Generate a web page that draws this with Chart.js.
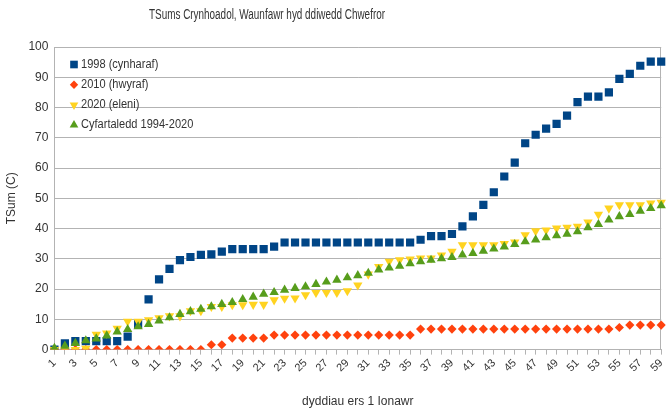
<!DOCTYPE html>
<html><head><meta charset="utf-8">
<script src="https://cdn.jsdelivr.net/npm/chart.js@4/dist/chart.umd.min.js"></script>
<style>html,body{margin:0;padding:0;background:#fff;} #wrap{width:667px;height:411px;position:relative;}</style>
</head><body><div id="wrap"><canvas id="c" width="667" height="411"></canvas></div>
<script>
const days = ['1','2','3','4','5','6','7','8','9','10','11','12','13','14','15','16','17','18','19','20',
  '21','22','23','24','25','26','27','28','29','30','31','32','33','34','35','36','37','38','39','40',
  '41','42','43','44','45','46','47','48','49','50','51','52','53','54','55','56','57','58','59'];

const s1998 = [0,2.1,2.8,2.8,2.8,2.8,2.8,4.3,8.4,16.6,23.2,26.7,29.6,30.6,31.3,31.5,32.4,33.2,33.2,33.2,
  33.2,34.0,35.4,35.4,35.4,35.4,35.4,35.4,35.4,35.4,35.4,35.4,35.4,35.4,35.4,36.3,37.5,37.5,38.2,40.7,
  44.0,47.8,52.0,57.2,61.8,68.2,71.0,73.0,74.6,77.3,81.8,83.6,83.6,85.0,89.5,91.1,93.8,95.2,95.2];

const s2010 = [0,0,0,0,0,0,0,0,0,0,0,0,0,0,0,1.6,1.6,3.8,3.8,3.8,
  3.8,4.8,4.8,4.8,4.8,4.8,4.8,4.8,4.8,4.8,4.8,4.8,4.8,4.8,4.8,6.8,6.8,6.8,6.8,6.8,
  6.8,6.8,6.8,6.8,6.8,6.8,6.8,6.8,6.8,6.8,6.8,6.8,6.8,6.8,7.3,8.1,8.1,8.1,8.1];

const s2020 = [0,0,0,0.4,5.0,5.4,7.0,9.3,9.3,9.8,10.5,11.1,11.1,12.8,12.8,14.2,14.2,14.8,14.8,14.9,
  14.9,16.4,16.9,17.0,18.1,18.8,18.8,18.8,19.4,21.3,24.9,27.4,29.1,29.6,29.9,30.2,30.2,31.2,32.4,34.6,
  34.6,34.6,34.6,35.0,35.5,37.9,39.2,39.5,40.1,40.4,40.7,42.1,44.7,46.7,47.8,47.8,47.8,48.4,48.6];

const sAvg = [0.5,1.2,2.1,3.0,3.6,4.6,5.9,6.7,7.6,8.4,9.5,10.6,11.7,12.6,13.4,14.2,15.0,15.6,16.6,17.4,
  18.4,18.9,19.7,20.3,20.8,21.6,22.4,23.0,23.8,24.5,25.3,26.4,27.0,27.6,28.4,29.1,29.6,30.1,30.5,31.3,
  31.8,32.6,33.3,34.0,34.8,35.7,36.3,37.0,37.7,38.2,39.0,40.3,41.4,42.9,44.0,44.7,45.8,46.7,47.6];

const seriesNames = ['1998 (cynharaf)','2010 (hwyraf)','2020 (eleni)','Cyfartaledd 1994-2020'];
const yTicks = [0,10,20,30,40,50,60,70,80,90,100];

const chartTitle = 'TSums Crynhoadol, Waunfawr hyd ddiwedd Chwefror';
const yTitle = 'TSum (C)';
const xTitle = 'dyddiau ers 1 Ionawr';

const FONT = "'Liberation Sans',Arial,sans-serif";

const titlePlugin = {
  id: 'titleDraw',
  afterDraw(chart) {
    const ctx = chart.ctx;
    ctx.save();
    ctx.font = "14px " + FONT;
    ctx.fillStyle = '#333';
    ctx.textAlign = 'center';
    ctx.textBaseline = 'middle';
    const w = ctx.measureText(chartTitle).width;
    const sx = Math.min(1, 236 / w);
    ctx.translate(267, 15);
    ctx.scale(sx, 1);
    ctx.fillText(chartTitle, 0, 0);
    ctx.restore();
  }
};

const legendPlugin = {
  id: 'legendDraw',
  afterDatasetsDraw(chart) {
    const ctx = chart.ctx;
    ctx.save();
    chart.data.datasets.forEach((ds, k) => {
      const x = 74, y = 64.5 + 20.2 * k;
      ctx.fillStyle = ds.backgroundColor;
      ctx.strokeStyle = ds.backgroundColor;
      Chart.helpers.drawPoint(ctx, {
        pointStyle: ds.pointStyle, radius: ds.legendRadius, rotation: ds.pointRotation || 0, borderWidth: 0
      }, x, y);
      ctx.save();
      ctx.font = "12px " + FONT;
      ctx.fillStyle = '#333';
      ctx.textAlign = 'left';
      ctx.textBaseline = 'middle';
      ctx.translate(81, y);
      ctx.scale(0.92, 1);
      ctx.fillText(ds.label, 0, 0);
      ctx.restore();
    });
    ctx.restore();
  }
};

const mk = (label, data, color, style, r, rot, order, lr) => ({
  label, data, backgroundColor: color, borderColor: color, borderWidth: 0,
  pointStyle: style, pointRadius: r, pointHoverRadius: r, pointRotation: rot,
  showLine: false, order, legendRadius: lr
});

new Chart(document.getElementById('c'), {
  type: 'line',
  data: {
    labels: days,
    datasets: [
      mk(seriesNames[0], s1998, '#004586', 'rect', 5.8, 0, 3, 5.4),
      mk(seriesNames[1], s2010, '#ff420e', 'rectRot', 4.6, 0, 2, 4.2),
      mk(seriesNames[2], s2020, '#ffd320', 'triangle', 5.4, 180, 1, 5),
      mk(seriesNames[3], sAvg, '#579d1c', 'triangle', 5.4, 0, 0, 5)
    ]
  },
  options: {
    responsive: false,
    animation: false,
    devicePixelRatio: 1,
    layout: { padding: { top: 47, right: 1, left: 4, bottom: 2 } },
    plugins: { legend: { display: false }, title: { display: false }, tooltip: { enabled: false } },
    scales: {
      x: {
        offset: false,
        afterFit(scale) { scale.paddingRight = 0; scale.paddingLeft = 0; },
        grid: { display: true, drawOnChartArea: false, drawTicks: true, tickLength: 5, color: '#b3b3b3' },
        border: { color: '#b3b3b3' },
        ticks: {
          autoSkip: false, maxRotation: 45, minRotation: 45, padding: 2,
          font: { family: FONT, size: 11 }, color: '#333',
          callback: function(v, i) { return (i % 2 === 0) ? days[i] : ''; }
        },
        title: { display: true, text: xTitle, font: { family: FONT, size: 12 }, color: '#333', padding: { top: 18, bottom: 0 } }
      },
      y: {
        min: 0, max: 100,
        afterBuildTicks: (scale) => { scale.ticks = yTicks.map(v => ({ value: v })); },
        grid: { color: '#b3b3b3', drawTicks: false },
        border: { color: '#b3b3b3' },
        ticks: { padding: 6, font: { family: FONT, size: 12 }, color: '#333' },
        title: { display: true, text: yTitle, font: { family: FONT, size: 12 }, color: '#333', padding: { top: 0, bottom: 4 } }
      }
    }
  },
  plugins: [titlePlugin, legendPlugin, {
    id: 'rightBorder',
    beforeDatasetsDraw(chart) {
      const a = chart.chartArea, ctx = chart.ctx;
      ctx.save(); ctx.strokeStyle = '#b3b3b3'; ctx.lineWidth = 1;
      ctx.beginPath(); ctx.moveTo(Math.round(a.right) - 0.5, a.top); ctx.lineTo(Math.round(a.right) - 0.5, a.bottom); ctx.stroke();
      ctx.restore();
    }
  }]
});
</script>
</body></html>
